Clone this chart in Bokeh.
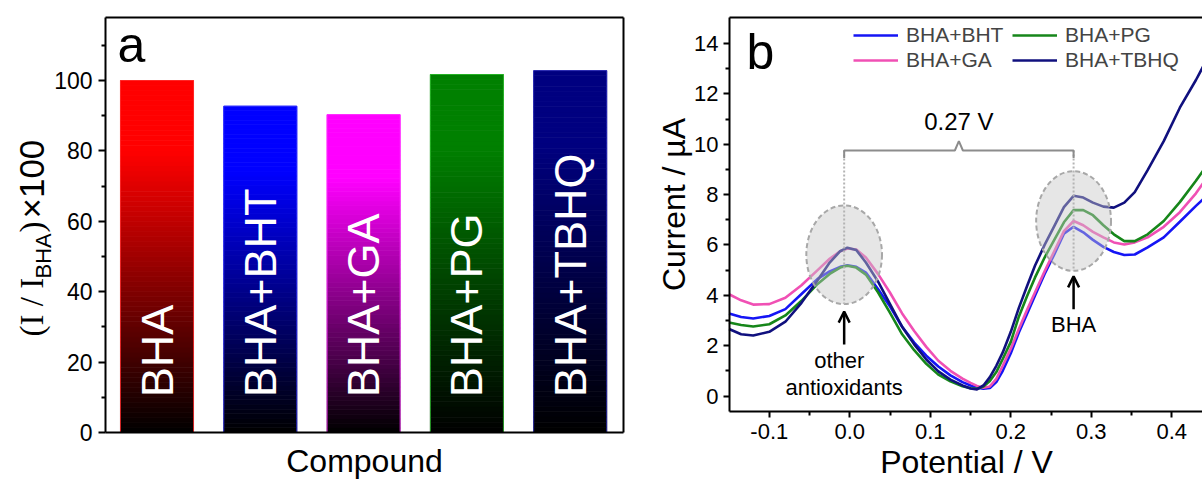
import numpy as np
from bokeh.plotting import figure
from bokeh.models import (Range1d, FixedTicker, PrintfTickFormatter, Label, Legend,
                          LegendItem, LinearAxis, Arrow, OpenHead)
from bokeh.layouts import row
from bokeh.embed import file_html
from bokeh.resources import INLINE
from bokeh.core.properties import value

# ---------------- data : panel a ----------------
compounds = ["BHA", "BHA+BHT", "BHA+GA", "BHA+PG", "BHA+TBHQ"]
ratios = [100.0, 92.7, 90.3, 101.7, 102.8]
bar_rgb = [(255, 0, 0), (0, 0, 255), (255, 0, 255), (0, 128, 0), (0, 0, 128)]

# ---------------- data : panel b ----------------
potential = [-0.150, -0.135, -0.120, -0.100, -0.080, -0.060, -0.040, -0.025, -0.012,
             -0.003, 0.008, 0.020, 0.035, 0.050, 0.065, 0.080, 0.095, 0.110, 0.125,
             0.140, 0.150, 0.158, 0.166, 0.174, 0.182, 0.190, 0.200, 0.210, 0.220,
             0.230, 0.242, 0.254, 0.266, 0.278, 0.290, 0.302, 0.315, 0.328, 0.341,
             0.354, 0.370, 0.390, 0.410, 0.430, 0.440]
cur_bht = [3.28, 3.14, 3.08, 3.18, 3.45, 4.05, 4.65, 4.95, 5.13,
           5.19, 5.13, 4.90, 4.25, 3.55, 2.75, 2.12, 1.60, 1.17, 0.82,
           0.55, 0.42, 0.33, 0.29, 0.32, 0.55, 1.00, 1.70, 2.52, 3.25,
           3.98, 4.85, 5.62, 6.45, 6.72, 6.50, 6.20, 5.92, 5.72, 5.60,
           5.62, 5.90, 6.30, 6.92, 7.55, 7.85]
cur_ga = [4.04, 3.80, 3.63, 3.65, 3.90, 4.40, 5.00, 5.45, 5.75,
          5.86, 5.82, 5.50, 4.85, 4.10, 3.28, 2.58, 1.95, 1.40, 1.00,
          0.69, 0.52, 0.40, 0.33, 0.38, 0.68, 1.20, 1.88, 2.66, 3.40,
          4.11, 4.95, 5.75, 6.55, 6.95, 6.78, 6.52, 6.30, 6.10, 6.02,
          6.10, 6.30, 6.72, 7.30, 8.05, 8.50]
cur_pg = [2.92, 2.82, 2.76, 2.85, 3.20, 3.78, 4.45, 4.85, 5.10,
          5.17, 5.10, 4.82, 4.12, 3.30, 2.45, 1.82, 1.28, 0.85, 0.58,
          0.39, 0.31, 0.29, 0.38, 0.60, 0.95, 1.47, 2.15, 3.15, 3.95,
          4.70, 5.50, 6.20, 6.90, 7.38, 7.38, 7.18, 6.78, 6.42, 6.15,
          6.15, 6.42, 6.95, 7.70, 8.55, 9.00]
cur_tbhq = [2.66, 2.45, 2.40, 2.55, 2.95, 3.70, 4.60, 5.30, 5.75,
            5.89, 5.80, 5.30, 4.55, 3.65, 2.75, 2.05, 1.45, 0.98, 0.65,
            0.42, 0.30, 0.26, 0.42, 0.75, 1.20, 1.73, 2.55, 3.50, 4.35,
            5.17, 6.00, 6.75, 7.50, 7.95, 7.88, 7.68, 7.52, 7.48, 7.68,
            8.10, 8.97, 10.12, 11.45, 12.55, 13.15]
series_names = ["BHA+BHT", "BHA+GA", "BHA+PG", "BHA+TBHQ"]
series_colors = ["#1515f5", "#f050b4", "#16861a", "#10107e"]

# annotation positions (data units)
peak_other = -0.007
peak_bha = 0.278
shift_text = "0.27 V"

SANS = "Liberation Sans"
SERIF = "Liberation Serif"
H = 483
WA, WB = 650, 552
BL = 0.38  # baseline correction, fraction of font size


# pixel -> data helpers (layout only)
def ax_x(px):
    return 1 + (px - 156.5) / 103.3


def ax_y(py):
    return (432 - py) / 3.52


def bx_x(px):
    return (px - 849.3) / 805


def bx_y(py):
    return (395.5 - py) / 25.18


def style_axis(ax, size):
    ax.axis_line_width = 2
    ax.axis_line_color = "black"
    ax.major_tick_line_width = 2
    ax.minor_tick_line_width = 2
    ax.major_tick_out = 7
    ax.major_tick_in = 0
    ax.minor_tick_out = 4
    ax.minor_tick_in = 0
    ax.major_label_text_font = SANS
    ax.major_label_text_font_size = size
    ax.major_label_text_color = "black"


def plain_axis(loc, bounds):
    return LinearAxis(fixed_location=loc, bounds=bounds, ticker=FixedTicker(ticks=[]),
                      major_label_text_font_size="0px", axis_line_width=2,
                      axis_line_color="black")


def hlabel(fig, x, ypx, yconv, text, size, font=SANS, align="center"):
    fig.add_layout(Label(x=x, y=yconv(ypx - BL * size), text=text, text_align=align,
                         text_baseline="alphabetic", text_font=font,
                         text_font_size="%dpx" % size, text_color="black"))


def vlabel(fig, xpx, xconv, y, text, size, font=SANS, align="center"):
    fig.add_layout(Label(x=xconv(xpx - BL * size), y=y, text=text, angle=np.pi / 2,
                         text_align=align, text_baseline="alphabetic", text_font=font,
                         text_font_size="%dpx" % size, text_color="black"))


# ======================= panel a =======================
pa = figure(width=WA, height=H, output_backend="svg", toolbar_location=None,
            x_range=Range1d(ax_x(0), ax_x(WA)), y_range=Range1d(ax_y(H), ax_y(0)),
            x_axis_location=None, y_axis_location=None, min_border=0)
pa.grid.visible = False
pa.outline_line_color = None
pa.background_fill_color = "white"
pa.border_fill_color = "white"

a_l, a_r, a_b, a_t = ax_x(105), ax_x(623), 0.0, ax_y(17)
ya = LinearAxis(fixed_location=a_l, bounds=(a_b, a_t),
                ticker=FixedTicker(ticks=[0, 20, 40, 60, 80, 100],
                                   minor_ticks=[10, 30, 50, 70, 90, 110]))
style_axis(ya, "23px")
ya.major_label_standoff = 6
pa.add_layout(ya, "left")
pa.add_layout(plain_axis(a_b, (a_l, a_r)), "below")
pa.add_layout(plain_axis(a_t, (a_l, a_r)), "above")
pa.add_layout(plain_axis(a_r, (a_b, a_t)), "right")

bw = 0.707
NS = 70
for i, (v, c) in enumerate(zip(ratios, bar_rgb)):
    xc = i + 1
    fr = np.linspace(0, 1, NS + 1)
    tm = (fr[:-1] + fr[1:]) / 2
    br = np.clip(tm / 0.8, 0, 1)
    cols = ["#%02x%02x%02x" % tuple(int(round(ch * b)) for ch in c) for b in br]
    pa.quad(left=xc - bw / 2, right=xc + bw / 2, bottom=v * fr[:-1], top=v * fr[1:],
            fill_color=cols, line_color=cols, line_width=0.8)
    edge = "#%02x%02x%02x" % tuple(min(255, ch + 60) if ch > 0 else 40 for ch in c)
    pa.quad(left=xc - bw / 2, right=xc + bw / 2, bottom=0, top=v,
            fill_color=None, line_color=edge, line_width=1, line_alpha=0.8)

pa.text(x=list(range(1, 6)), y=[10] * 5, text=compounds, angle=np.pi / 2,
        text_align="left", text_baseline="middle", text_color="white",
        text_font=value(SANS), text_font_size="45px")

hlabel(pa, ax_x(117), 63, ax_y, "a", 50, align="left")
hlabel(pa, ax_x(364), 473, ax_y, "Compound", 32)
# y label  (I / I_BHA)x100, pieces stacked upward
ylab = [("(I / I", SERIF, 33, 44, 336),
        ("BHA", SANS, 22, 51, 278),
        (")", SERIF, 33, 44, 232),
        ("\u00d7100", SANS, 35, 44, 218)]
for t, f, s, bxp, byp in ylab:
    vlabel(pa, bxp, ax_x, ax_y(byp), t, s, font=f, align="left")

# ======================= panel b =======================
pb = figure(width=WB, height=H, output_backend="svg", toolbar_location=None,
            x_range=Range1d(bx_x(650), bx_x(650 + WB)), y_range=Range1d(bx_y(H), bx_y(0)),
            x_axis_location=None, y_axis_location=None, min_border=0)
pb.grid.visible = False
pb.outline_line_color = None
pb.border_fill_color = "white"
pb.background_fill_color = "white"

b_l, b_r, b_b, b_t = bx_x(729), bx_x(1202), bx_y(411), bx_y(17)
xb = LinearAxis(fixed_location=b_b, bounds=(b_l, b_r),
                ticker=FixedTicker(ticks=[-0.1, 0.0, 0.1, 0.2, 0.3, 0.4],
                                   minor_ticks=[-0.05, 0.05, 0.15, 0.25, 0.35]),
                formatter=PrintfTickFormatter(format="%.1f"))
style_axis(xb, "22px")
xb.major_tick_out = 6
xb.major_label_standoff = 6
pb.add_layout(xb, "below")
yb = LinearAxis(fixed_location=b_l, bounds=(b_b, b_t),
                ticker=FixedTicker(ticks=[0, 2, 4, 6, 8, 10, 12, 14],
                                   minor_ticks=[1, 3, 5, 7, 9, 11, 13]))
style_axis(yb, "22px")
yb.major_tick_out = 6
yb.major_label_standoff = 5
pb.add_layout(yb, "left")
pb.add_layout(plain_axis(b_t, (b_l, b_r)), "above")

curves = [cur_bht, cur_ga, cur_pg, cur_tbhq]
renderers = []
for ys, col in zip(curves, series_colors):
    r = pb.line(potential, ys, line_color=col, line_width=2.6)
    renderers.append(r)

# shaded ellipses
pb.ellipse(x=[peak_other, peak_bha], y=[5.61, 6.95], width=[0.094, 0.093],
           height=[3.92, 3.96], fill_color="#c8c8c8", fill_alpha=0.45,
           line_color="#a8a8a8", line_width=2, line_dash="5 3")
# dotted guides
pb.segment(x0=[peak_other, peak_bha], y0=[9.75, 9.75], x1=[peak_other, peak_bha],
           y1=[3.65, 4.97], line_color="#b4b4b4", line_width=2, line_dash="2 2")
# bracket
mid = (peak_other + peak_bha) / 2
pb.line([peak_other, peak_other, mid - 0.005, mid, mid + 0.005, peak_bha, peak_bha],
        [9.45, 9.75, 9.75, 10.12, 9.75, 9.75, 9.45],
        line_color="#8c8c8c", line_width=2)
hlabel(pb, mid, 130, bx_y, shift_text, 24)
# arrows
pb.add_layout(Arrow(end=OpenHead(size=11, line_width=2.5), x_start=peak_other, y_start=2.05,
                    x_end=peak_other, y_end=3.35, line_width=2.5))
pb.add_layout(Arrow(end=OpenHead(size=11, line_width=2.5), x_start=peak_bha, y_start=3.45,
                    x_end=peak_bha, y_end=4.75, line_width=2.5))
hlabel(pb, -0.013, 368, bx_y, "other", 22)
hlabel(pb, -0.007, 395, bx_y, "antioxidants", 22)
hlabel(pb, peak_bha, 332, bx_y, "BHA", 22)

hlabel(pb, bx_x(746), 70, bx_y, "b", 50, align="left")
vlabel(pb, 686, bx_x, bx_y(204), "Current / \u00b5A", 32)
hlabel(pb, bx_x(966), 474, bx_y, "Potential / V", 32)

legend = Legend(items=[LegendItem(label=n, renderers=[r]) for n, r in zip(series_names, renderers)],
                location=(853 - 650, H - 72), orientation="vertical", nrows=2,
                label_text_font=SANS, label_text_font_size="21px", label_width=105,
                glyph_width=45, glyph_height=20, label_standoff=8, spacing=1,
                padding=0, margin=0, border_line_color=None, background_fill_alpha=0)
pb.add_layout(legend)

layout = row(pa, pb)
open("out.html", "w").write(file_html(layout, INLINE))
